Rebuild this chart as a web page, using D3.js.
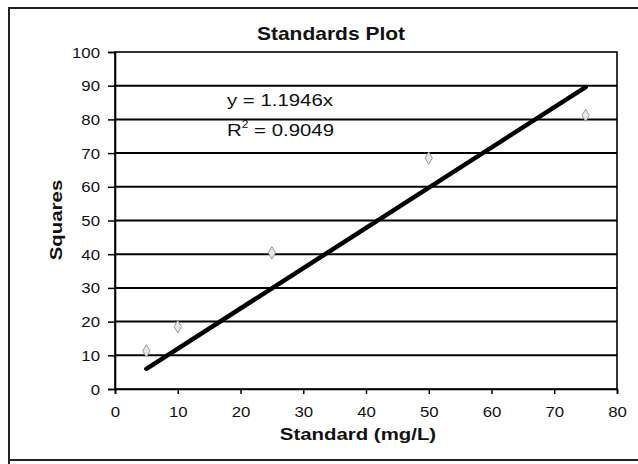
<!DOCTYPE html>
<html>
<head>
<meta charset="utf-8">
<script src="https://cdn.jsdelivr.net/npm/d3@7"></script>
<style>
    body { margin: 0; background: #fff; }
    text { font-family: "Liberation Sans", Arial, sans-serif; fill: #111; }
</style>
</head>
<body>
<div id="graph"></div>
<script>
var WIDTH = 638;
var HEIGHT = 464;

// data
var standards = [5, 10, 25, 50, 75];
var squares = [11.3, 18.5, 40.4, 68.5, 81.2];
var slope = 1.1946;
var r2 = 0.9049;
var xTicks = [0, 10, 20, 30, 40, 50, 60, 70, 80];
var yTicks = [0, 10, 20, 30, 40, 50, 60, 70, 80, 90, 100];

// the scan is a bit wider than tall, so text is stretched horizontally
var STRETCH = 1.2;

var svg = d3.select("#graph").append("svg")
    .attr("width", WIDTH)
    .attr("height", HEIGHT);

var x = d3.scaleLinear().domain([0, 80]).range([115, 617]);
var y = d3.scaleLinear().domain([0, 100]).range([389, 52]);

// outer frame
svg.append("path")
    .attr("d", "M9,466 L9,8 L640,8 M9,460 L640,460")
    .attr("fill", "none")
    .attr("stroke", "#222")
    .attr("stroke-width", 2);

function stretchedText(px, py, str, size, anchor, rotate) {
    var t = svg.append("text")
        .attr("transform", "translate(" + px + "," + py + ")" +
            (rotate ? " rotate(" + rotate + ")" : "") +
            " scale(" + STRETCH + ",1)")
        .attr("text-anchor", anchor)
        .attr("font-size", size)
        .text(str);
    return t;
}

// gridlines
svg.append("g")
    .selectAll("line")
    .data(yTicks.filter(function(d) { return d > 0 && d < 100; }))
    .enter().append("line")
    .attr("x1", x(0))
    .attr("x2", x(80))
    .attr("y1", function(d) { return y(d); })
    .attr("y2", function(d) { return y(d); })
    .attr("stroke", "#000")
    .attr("stroke-width", 2);

// plot area border
svg.append("rect")
    .attr("x", x(0))
    .attr("y", y(100))
    .attr("width", x(80) - x(0))
    .attr("height", y(0) - y(100))
    .attr("fill", "none")
    .attr("stroke", "#000")
    .attr("stroke-width", 1.6);

// axes
var yAxis = svg.append("g")
    .attr("transform", "translate(" + x(0) + ",0)")
    .call(d3.axisLeft(y).tickValues(yTicks).tickSize(7).tickPadding(8));

var xAxis = svg.append("g")
    .attr("transform", "translate(0," + y(0) + ")")
    .call(d3.axisBottom(x).tickValues(xTicks).tickSize(5).tickPadding(13));

[yAxis, xAxis].forEach(function(ax) {
    ax.select(".domain").attr("stroke-width", 1.6);
    ax.selectAll(".tick line").attr("stroke-width", 1.5);
    ax.selectAll("text")
        .attr("font-family", "Liberation Sans, Arial, sans-serif")
        .attr("font-size", 14)
        .attr("fill", "#111")
        .attr("x", function() { return (+d3.select(this).attr("x") || 0) / STRETCH; })
        .attr("transform", "scale(" + STRETCH + ",1)");
});
yAxis.selectAll("text").attr("dy", "0.36em");

// data markers (faint in the scan)
svg.append("g")
    .selectAll("path")
    .data(standards)
    .enter().append("path")
    .attr("d", d3.symbol().type(d3.symbolDiamond).size(45))
    .attr("transform", function(d, i) { return "translate(" + x(d) + "," + y(squares[i]) + ")"; })
    .attr("fill", "#e8e8e8")
    .attr("stroke", "#999")
    .attr("stroke-width", 1);

// linear trendline through origin
var trend = [d3.min(standards), d3.max(standards)];
svg.append("line")
    .attr("x1", x(trend[0]))
    .attr("y1", y(trend[0] * slope))
    .attr("x2", x(trend[1]))
    .attr("y2", y(trend[1] * slope))
    .attr("stroke", "#000")
    .attr("stroke-width", 4.5)
    .attr("stroke-linecap", "round");

// equation
stretchedText(227, 106, "y = " + slope + "x", 17, "start");
var rt = stretchedText(227, 136, "R", 17, "start");
rt.append("tspan").attr("font-size", 10).attr("dy", -8).text("2");
rt.append("tspan").attr("dy", 8).text(" = " + r2);

// titles
stretchedText(331, 40, "Standards Plot", 17.5, "middle").attr("font-weight", "bold");
stretchedText(358, 440, "Standard (mg/L)", 17, "middle").attr("font-weight", "bold");
svg.append("text")
    .attr("transform", "translate(62,220) rotate(-90) scale(" + STRETCH + ",1)")
    .attr("text-anchor", "middle")
    .attr("font-size", 17)
    .attr("font-weight", "bold")
    .text("Squares");
</script>
</body>
</html>
